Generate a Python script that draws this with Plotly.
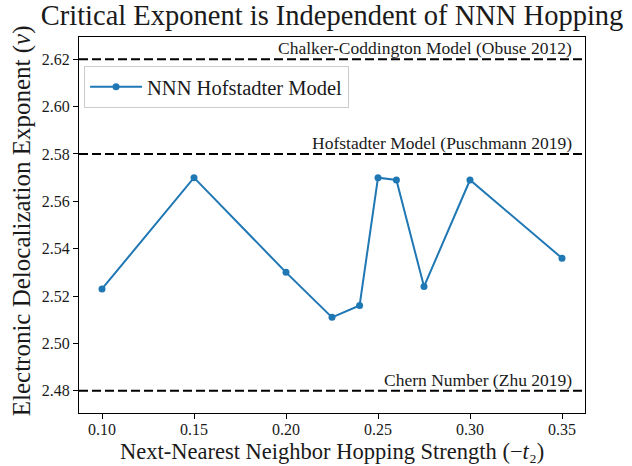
import plotly.graph_objects as go

# Data
t2_values = [0.10, 0.15, 0.20, 0.225, 0.24, 0.25, 0.26, 0.275, 0.30, 0.35]
nu_values = [2.523, 2.570, 2.530, 2.511, 2.516, 2.570, 2.569, 2.524, 2.569, 2.536]

ref_values = [2.62, 2.58, 2.48]
ref_labels = ["Chalker-Coddington Model (Obuse 2012)",
              "Hofstadter Model (Puschmann 2019)",
              "Chern Number (Zhu 2019)"]

x_ticks = [0.10, 0.15, 0.20, 0.25, 0.30, 0.35]
y_ticks = [2.48, 2.50, 2.52, 2.54, 2.56, 2.58, 2.60, 2.62]

FONT = "Liberation Serif, DejaVu Serif, serif"
BLUE = "#1f77b4"
TXT = "#1a1a1a"

fig = go.Figure()
fig.add_trace(go.Scatter(
    x=t2_values, y=nu_values, mode="lines+markers",
    name="NNN Hofstadter Model",
    line=dict(color=BLUE, width=2),
    marker=dict(color=BLUE, size=7),
))

for v, lab in zip(ref_values, ref_labels):
    fig.add_hline(y=v, line=dict(color="black", width=2, dash="9px,4px"))
    fig.add_annotation(x=0.3567, y=v, xref="x", yref="y", text=lab,
                       showarrow=False, xanchor="right", yanchor="bottom",
                       yshift=-1, font=dict(family=FONT, size=17.5, color=TXT))

# axis titles as annotations
fig.add_annotation(x=0.5, y=-0.141, xref="paper", yref="paper",
                   text="Next-Nearest Neighbor Hopping Strength (−<i>t</i>₂)",
                   showarrow=False, xanchor="center", yanchor="bottom",
                   font=dict(family=FONT, size=22.5, color=TXT))
fig.add_annotation(x=-0.1126, y=0.51, xref="paper", yref="paper",
                   text="Electronic Delocalization Exponent (<i>ν</i>)",
                   showarrow=False, xanchor="center", yanchor="middle", textangle=-90,
                   font=dict(family=FONT, size=25, color=TXT))

fig.update_layout(
    width=632, height=466,
    margin=dict(l=79, r=47, t=37, b=53),
    paper_bgcolor="white", plot_bgcolor="white",
    font=dict(family=FONT, color=TXT),
    title=dict(text="Critical Exponent is Independent of NNN Hopping",
               x=0.5254, xanchor="center", y=0.99, yanchor="top",
               font=dict(family=FONT, size=28.5, color=TXT)),
    showlegend=True,
    legend=dict(x=0.01, y=0.923, xanchor="left", yanchor="top",
                bordercolor="#cccccc", borderwidth=1, bgcolor="rgba(255,255,255,0.8)",
                itemwidth=52,
                font=dict(family=FONT, size=20.5, color=TXT)),
)

fig.update_xaxes(range=[0.0875, 0.3625], tickvals=x_ticks,
                 ticktext=[f"{v:.2f}" for v in x_ticks],
                 showgrid=False, zeroline=False, showline=True, mirror=True,
                 linecolor="black", linewidth=1, automargin=False,
                 ticks="outside", ticklen=5, tickcolor="black",
                 ticklabelstandoff=-3,
                 tickfont=dict(family=FONT, size=16, color=TXT))
fig.update_yaxes(range=[2.4706, 2.6294], tickvals=y_ticks,
                 ticktext=[f"{v:.2f}" for v in y_ticks],
                 showgrid=False, zeroline=False, showline=True, mirror=True,
                 linecolor="black", linewidth=1, automargin=False,
                 ticks="outside", ticklen=5, tickcolor="black",
                 tickfont=dict(family=FONT, size=16, color=TXT))

fig.write_html("out.html", config={"displayModeBar": False},
               post_script="document.body.style.margin='0';document.body.style.padding='0';")
